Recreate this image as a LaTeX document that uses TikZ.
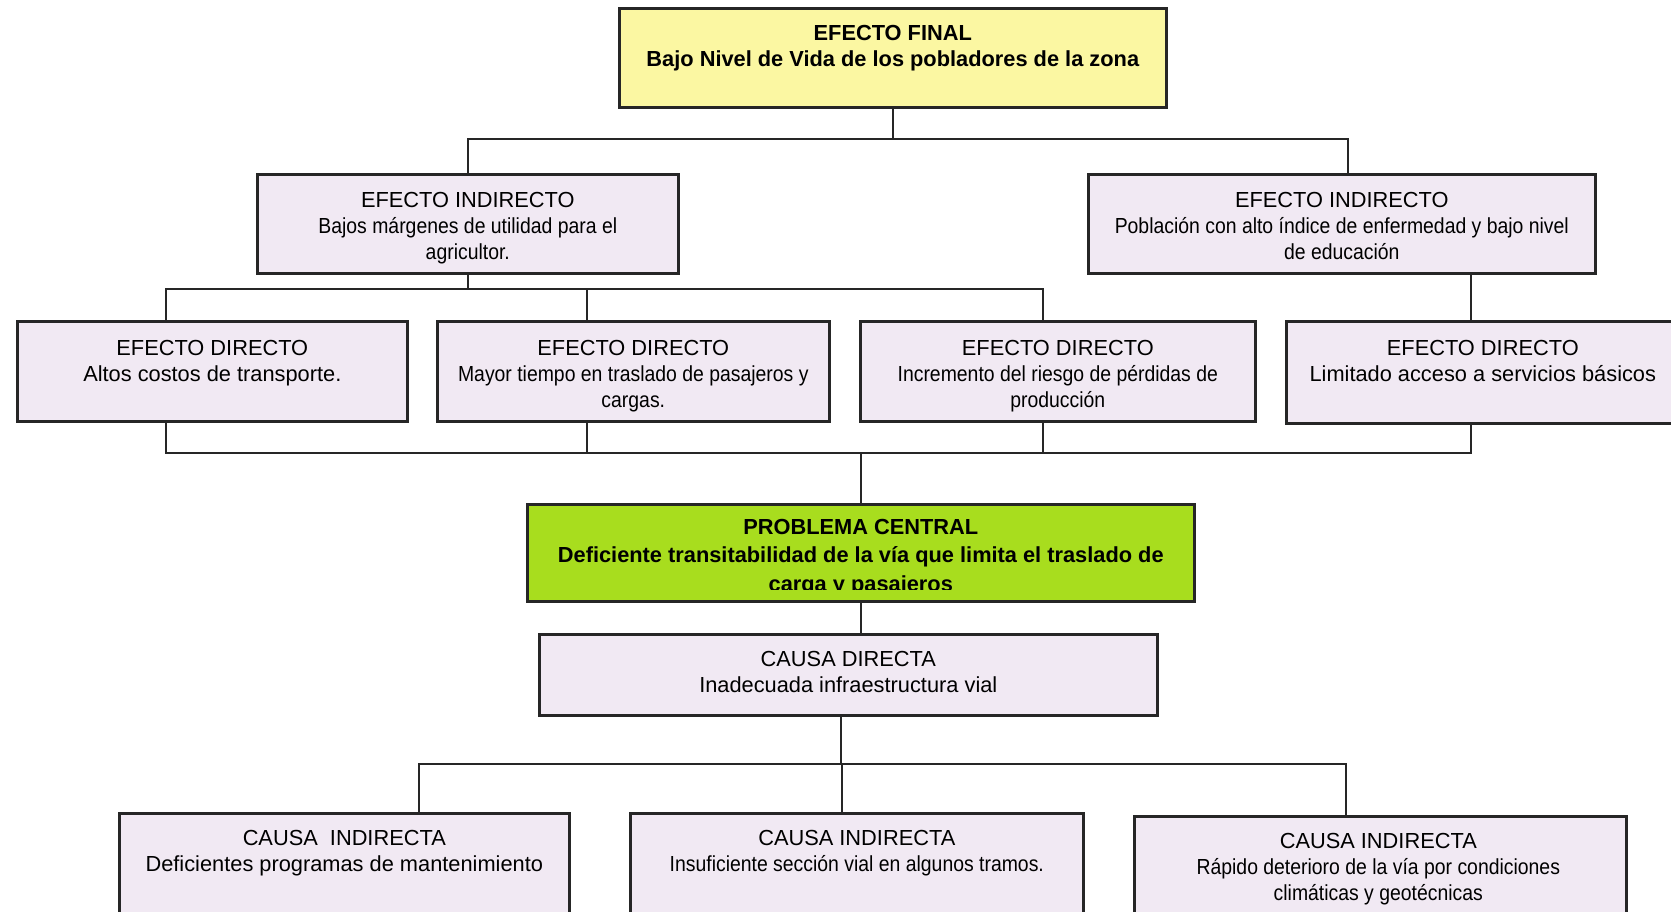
\documentclass[tikz,border=0pt]{standalone}
\usepackage{fontspec}
\setmainfont{Liberation Sans}
\newfontfamily\narrowfont[FakeStretch=0.89]{Liberation Sans}
\usetikzlibrary{positioning}

\definecolor{lila}{RGB}{241,233,243}
\definecolor{amarillo}{RGB}{251,247,162}
\definecolor{verde}{RGB}{168,221,30}

\begin{document}
\begin{tikzpicture}[x=1pt,y=-1pt,
    caja/.style={draw=black!85, line width=2.6pt, fill=lila, inner sep=0pt, anchor=north west},
    texto/.style={align=center, inner sep=0pt, font=\fontsize{21.8}{26}\selectfont},
    linea/.style={line width=2.2pt, draw=black!85}]
    \useasboundingbox (0,0) rectangle (1671,911);

    % efecto final
    \node[caja, fill=amarillo, minimum width=547pt, minimum height=99pt] (final) at (618,7) {};
    \node[texto, below=18pt of final.north] (finalt) {\bfseries EFECTO FINAL\\
        \bfseries Bajo Nivel de Vida de los pobladores de la zona};

    % efectos indirectos
    \node[caja, minimum width=421pt, minimum height=99pt] (ei1) at (256,173) {};
    \node[texto, below=19pt of ei1.north] (ei1t) {EFECTO INDIRECTO\\
        {\narrowfont Bajos márgenes de utilidad para el}\\ {\narrowfont agricultor.}};
    \node[caja, minimum width=507pt, minimum height=99pt] (ei2) at (1087,173) {};
    \node[texto, below=19pt of ei2.north] (ei2t) {EFECTO INDIRECTO\\
        {\narrowfont Población con alto índice de enfermedad y bajo nivel}\\ {\narrowfont de educación}};

    % efectos directos
    \node[caja, minimum width=390pt, minimum height=100pt] (ed1) at (16,320) {};
    \node[texto, below=20pt of ed1.north] (ed1t) {EFECTO DIRECTO\\ Altos costos de transporte.};
    \node[caja, minimum width=392pt, minimum height=100pt] (ed2) at (436,320) {};
    \node[texto, below=20pt of ed2.north] (ed2t) {EFECTO DIRECTO\\
        {\narrowfont Mayor tiempo en traslado de pasajeros y}\\ {\narrowfont cargas.}};
    \node[caja, minimum width=395pt, minimum height=100pt] (ed3) at (859,320) {};
    \node[texto, below=20pt of ed3.north] (ed3t) {EFECTO DIRECTO\\
        {\narrowfont Incremento del riesgo de pérdidas de}\\ {\narrowfont producción}};
    \node[caja, minimum width=395pt, minimum height=102pt] (ed4) at (1285,320) {};
    \node[texto, below=20pt of ed4.north, xshift=-1pt] (ed4t) {EFECTO DIRECTO\\ Limitado acceso a servicios básicos};

    % problema central
    \node[caja, fill=verde, minimum width=667pt, minimum height=97pt] (pc) at (526,503) {};
    \begin{scope}
        \clip (pc.north west) rectangle ([yshift=13pt]pc.south east);
        \node[texto, font=\fontsize{21.8}{28.5}\selectfont, below=16pt of pc.north] (pct) {\bfseries PROBLEMA CENTRAL\\
            \bfseries Deficiente transitabilidad de la vía que limita el traslado de\\
            \bfseries carga y pasajeros};
    \end{scope}

    % causa directa
    \node[caja, minimum width=618pt, minimum height=81pt] (cd) at (538,633) {};
    \node[texto, below=18pt of cd.north] (cdt) {CAUSA DIRECTA\\ Inadecuada infraestructura vial};

    % causas indirectas
    \node[caja, minimum width=450pt, minimum height=120pt] (ci1) at (118,812) {};
    \node[texto, below=18pt of ci1.north] (ci1t) {CAUSA\ \ INDIRECTA\\ Deficientes programas de mantenimiento};
    \node[caja, minimum width=453pt, minimum height=120pt] (ci2) at (629,812) {};
    \node[texto, below=18pt of ci2.north] (ci2t) {CAUSA INDIRECTA\\
        {\narrowfont Insuficiente sección vial en algunos tramos.}};
    \node[caja, minimum width=492pt, minimum height=117pt] (ci3) at (1133,815) {};
    \node[texto, below=18pt of ci3.north, xshift=-2pt] (ci3t) {CAUSA INDIRECTA\\
        {\narrowfont Rápido deterioro de la vía por condiciones}\\ {\narrowfont climáticas y geotécnicas}};

    % conectores
    \coordinate (j0) at ([yshift=-30pt]final.south);
    \draw[linea] (final.south) -- (j0);
    \draw[linea] (ei1.north) |- (j0) -| ([xshift=6pt]ei2.north);

    \coordinate (j1) at ([yshift=-14pt]ei1.south);
    \draw[linea] (ei1.south) -- (j1);
    \draw[linea] ([xshift=-46pt]ed1.north) |- (j1) -| ([xshift=-15pt]ed3.north);
    \draw[linea] ([xshift=-46pt]ed2.north) |- (j1);
    \draw[linea] ([xshift=129pt]ei2.south) -- ([xshift=-13pt]ed4.north);

    \coordinate (j2) at ([yshift=50pt]pc.north);
    \draw[linea] ([xshift=-46pt]ed1.south) |- (j2) -| ([xshift=-13pt]ed4.south);
    \draw[linea] ([xshift=-46pt]ed2.south) |- (j2);
    \draw[linea] ([xshift=-15pt]ed3.south) |- (j2);
    \draw[linea] (j2) -- (pc.north);
    \draw[linea] (pc.south) -- (pc.south |- cd.north);

    \coordinate (j3) at ([xshift=-7pt, yshift=-47pt]cd.south);
    \draw[linea] ([xshift=-7pt]cd.south) -- (j3);
    \draw[linea] ([xshift=75pt]ci1.north) |- (j3) -| ([xshift=-34pt]ci3.north);
    \draw[linea] ([xshift=-15pt]ci2.north) |- (j3);
\end{tikzpicture}
\end{document}
